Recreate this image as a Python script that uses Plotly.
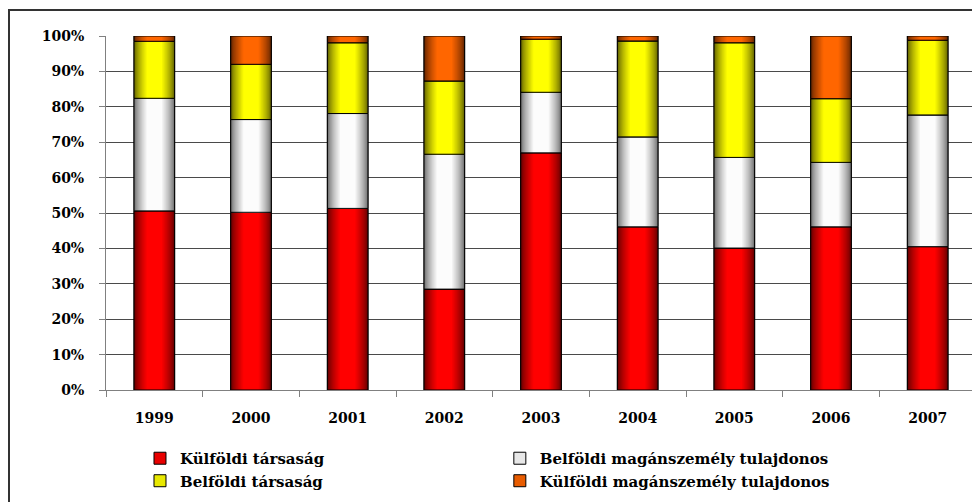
import plotly.graph_objects as go

years = ["1999", "2000", "2001", "2002", "2003", "2004", "2005", "2006", "2007"]
kulfoldi_tarsasag = [50.6, 50.2, 51.3, 28.5, 67.0, 46.1, 40.1, 46.1, 40.5]
belfoldi_magan = [31.8, 26.2, 26.8, 38.1, 17.1, 25.4, 25.6, 18.2, 37.2]
belfoldi_tarsasag = [16.1, 15.6, 20.0, 20.7, 15.0, 27.1, 32.4, 18.0, 21.1]
kulfoldi_magan = [1.5, 8.0, 1.9, 12.7, 0.9, 1.4, 1.9, 17.7, 1.2]

_FONT = "DejaVu Serif"
_GRID = "#4a4a4a"
_AXIS = "#808080"
_BAR_W = 0.42

# name, values, edge colour, centre colour, legend
series = [
    ("Külföldi társaság", kulfoldi_tarsasag, (0x66, 0x00, 0x00), (0xff, 0x00, 0x00), "legend"),
    ("Belföldi magánszemély tulajdonos", belfoldi_magan, (0x70, 0x70, 0x70), (0xfc, 0xfc, 0xfc), "legend2"),
    ("Belföldi társaság", belfoldi_tarsasag, (0x66, 0x66, 0x00), (0xff, 0xff, 0x00), "legend"),
    ("Külföldi magánszemély tulajdonos", kulfoldi_magan, (0x66, 0x26, 0x00), (0xff, 0x66, 0x00), "legend2"),
]


def _mix(a, b, t):
    return "rgb(%d,%d,%d)" % tuple(round(a[i] + (b[i] - a[i]) * t) for i in range(3))


totals = [sum(s[1][i] for s in series) for i in range(len(years))]
base = [0.0] * len(years)
fig = go.Figure()

# cylinder look: layers of narrower, brighter bars on top of each other
n_layers = 12
layers = []
for k in range(n_layers):
    f = k / (n_layers - 1)
    layers.append((_BAR_W - f * 0.26, f ** 0.75))

for name, vals, dark, bright, leg in series:
    share = [v / t * 100 for v, t in zip(vals, totals)]
    # legend trace (bright fill, black edge); covered by the layers below
    fig.add_trace(go.Bar(
        x=years, y=share, base=base, width=_BAR_W,
        marker=dict(color=_mix(dark, bright, 0.85), line=dict(color="#000000", width=1)),
        name=name, legend=leg,
        hovertemplate="%{x}<br>" + name + " %{y:.1f}%<extra></extra>",
    ))
    for w, t in layers:
        fig.add_trace(go.Bar(
            x=years, y=share, base=base, width=w,
            marker=dict(color=_mix(dark, bright, t), line_width=0),
            showlegend=False, hoverinfo="skip",
        ))
    fig.add_trace(go.Bar(
        x=years, y=share, base=base, width=_BAR_W,
        marker=dict(color="rgba(0,0,0,0)", line=dict(color="#000000", width=1)),
        showlegend=False, hoverinfo="skip",
    ))
    base = [b + s for b, s in zip(base, share)]

_leg = dict(
    xref="container", yref="container", y=0.1215,
    xanchor="left", yanchor="top", tracegroupgap=0,
    font=dict(family=_FONT, size=15, weight="bold"),
    itemwidth=30, bgcolor="rgba(0,0,0,0)",
)

fig.update_layout(
    width=972, height=494,
    barmode="overlay",
    margin=dict(l=98, r=4, t=28, b=112, autoexpand=False),
    paper_bgcolor="#ffffff",
    plot_bgcolor="#ffffff",
    font=dict(family=_FONT, color="#000000", size=14, weight="bold"),
    legend=dict(_leg, x=0.1358),
    legend2=dict(_leg, x=0.506),
    shapes=[dict(
        type="rect", xref="paper", yref="paper",
        x0=-0.1115, x1=1.05, y0=-0.5, y1=1.0734,
        line=dict(color="#333333", width=2), fillcolor="rgba(0,0,0,0)",
        layer="below",
    )],
)

fig.update_xaxes(
    type="category", tickson="boundaries", ticks="outside", ticklen=6,
    tickcolor=_AXIS, showline=True, linecolor=_AXIS, linewidth=1,
    showgrid=False, ticklabelstandoff=15, tickangle=0,
    tickfont=dict(family=_FONT, size=14, weight="bold"),
)
fig.update_yaxes(
    range=[0, 100], dtick=10, ticksuffix="%", ticks="outside", ticklen=6,
    tickcolor=_AXIS, showline=True, linecolor=_AXIS, linewidth=1,
    gridcolor=_GRID, gridwidth=1, zeroline=False, ticklabelstandoff=12,
    tickfont=dict(family=_FONT, size=14, weight="bold"),
)

fig.write_html("out.html")
